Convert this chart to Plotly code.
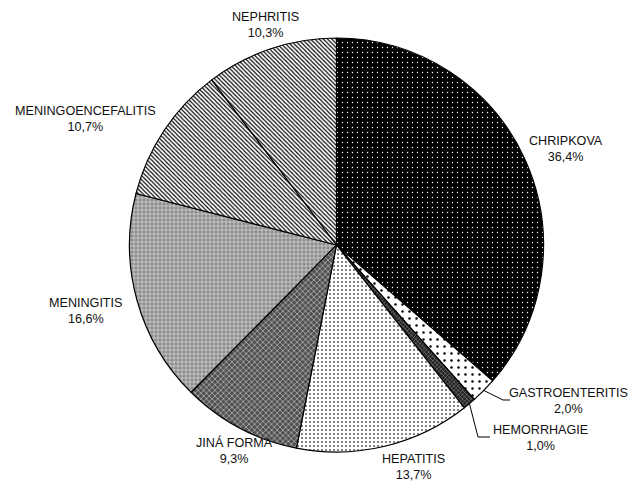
import math

import plotly.graph_objects as go

W, H = 628, 483

LABELS = ["CHRIPKOVA", "GASTROENTERITIS", "HEMORRHAGIE", "HEPATITIS",
          "JINÁ FORMA", "MENINGITIS", "MENINGOENCEFALITIS", "NEPHRITIS"]
VALUES = [36.4, 2.0, 1.0, 13.7, 9.3, 16.6, 10.7, 10.3]

# fill patterns per slice (grayscale, like the printed original)
PAT_SHAPE = [".", ".", "x", ".", "x", "+", "\\", "\\"]
PAT_BG = ["#000000", "#ffffff", "#202020", "#ffffff", "#505050", "#8c8c8c", "#ffffff", "#ffffff"]
PAT_FG = ["#ffffff", "#000000", "#9a9a9a", "#666666", "#c8c8c8", "#e0e0e0", "#000000", "#000000"]
PAT_SIZE = [5, 7, 3, 4, 4, 4, 3, 3]
PAT_SOLID = [0.06, 0.1, 0.3, 0.22, 0.3, 0.3, 0.38, 0.38]

# pie geometry in pixels
CX, CY, R = 336.5, 245, 207

# label centres (px) and leader-line elbows for the two thin slices
LABEL_POS = {
    "CHRIPKOVA": (566, 149),
    "GASTROENTERITIS": (568, 401),
    "HEMORRHAGIE": (540, 438),
    "HEPATITIS": (413, 467),
    "JINÁ FORMA": (235, 450),
    "MENINGITIS": (85, 311),
    "MENINGOENCEFALITIS": (85, 119),
    "NEPHRITIS": (265, 25),
}
LEADERS = {
    "GASTROENTERITIS": [(503, 400), (510, 400)],
    "HEMORRHAGIE": [(478, 437), (490, 437)],
}


def px(x, y):
    return x / W, 1 - y / H


fig = go.Figure(go.Pie(
    labels=LABELS,
    values=VALUES,
    sort=False,
    direction="clockwise",
    rotation=0,
    textinfo="none",
    hoverinfo="label+percent",
    marker={
        "line": {"color": "#000000", "width": 1.2},
        "pattern": {
            "shape": PAT_SHAPE,
            "bgcolor": PAT_BG,
            "fgcolor": PAT_FG,
            "size": PAT_SIZE,
            "solidity": PAT_SOLID,
            "fillmode": "replace",
        },
    },
    domain={"x": [(CX - R) / W, (CX + R) / W],
            "y": [1 - (CY + R) / H, 1 - (CY - R) / H]},
    showlegend=False,
))

annotations = []
shapes = []
total = sum(VALUES)
cum = 0.0
for lab, val in zip(LABELS, VALUES):
    mid = (cum + val / 2) / total * 2 * math.pi
    cum += val
    lx, ly = LABEL_POS[lab]
    x, y = px(lx, ly)
    annotations.append(dict(
        text=f"{lab}<br>{val:.1f}%".replace(".", ","),
        x=x, y=y, xref="paper", yref="paper",
        xanchor="center", yanchor="middle", showarrow=False,
        font={"family": "Liberation Sans, Arial", "size": 12.6, "color": "#111111"},
    ))
    if lab in LEADERS:
        pts = [(CX + R * math.sin(mid), CY - R * math.cos(mid))] + LEADERS[lab]
        path = "M " + " L ".join(f"{px(a, b)[0]},{px(a, b)[1]}" for a, b in pts)
        shapes.append(dict(type="path", path=path, xref="paper", yref="paper",
                           line={"color": "#000000", "width": 1}))

fig.update_layout(
    width=W, height=H,
    margin={"l": 0, "r": 0, "t": 0, "b": 0},
    paper_bgcolor="#ffffff",
    plot_bgcolor="#ffffff",
    annotations=annotations,
    shapes=shapes,
)

fig.write_html("out.html", config={"displayModeBar": False},
               post_script="document.body.style.margin='0';")
